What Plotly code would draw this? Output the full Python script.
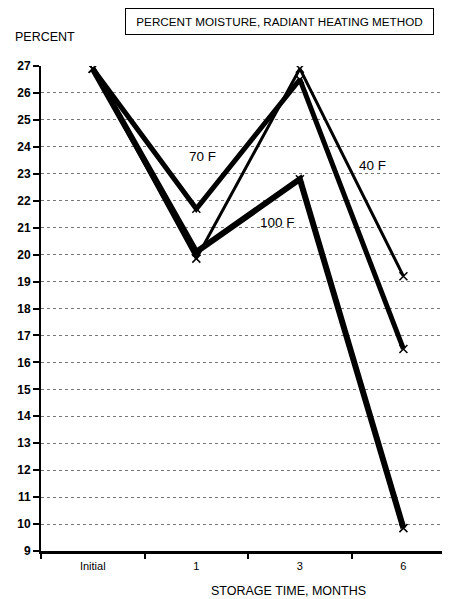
import plotly.graph_objects as go

categories = ["Initial", "1", "3", "6"]
f40 = [26.9, 19.85, 26.9, 19.2]
f70 = [26.9, 21.7, 26.5, 16.5]
f100 = [26.9, 20.1, 22.8, 9.85]
series = [("40 F", f40, 3), ("70 F", f70, 5), ("100 F", f100, 6)]
yticks = list(range(9, 28))

fig = go.Figure()
for name, vals, w in series:
    fig.add_trace(go.Scatter(
        x=categories, y=vals, mode="lines+markers", name=name,
        line=dict(color="black", width=w),
        marker=dict(symbol="x-thin", size=8, color="black",
                    line=dict(color="black", width=1.5)),
        showlegend=False))

font = "Liberation Sans, Arial, sans-serif"
labels = [("70 F", 1.06, 23.65), ("100 F", 1.78, 21.2), ("40 F", 2.7, 23.3)]
for t, x, y in labels:
    fig.add_annotation(x=x, y=y, text=t, showarrow=False,
                       font=dict(family=font, size=13.5, color="black"))

fig.add_annotation(xref="paper", yref="paper", x=0.584, y=1.091,
                   yanchor="middle",
                   text="PERCENT MOISTURE, RADIANT HEATING METHOD",
                   showarrow=False, bordercolor="black", borderwidth=1,
                   borderpad=6, width=295,
                   font=dict(family=font, size=11.7, color="black"))
fig.add_annotation(xref="paper", yref="paper", x=-0.068, y=1.06,
                   xanchor="left", yanchor="middle", text="PERCENT",
                   showarrow=False,
                   font=dict(family=font, size=12.5, color="black"))
fig.add_annotation(xref="paper", yref="paper", x=0.604, y=-0.0825,
                   yanchor="middle", text="STORAGE TIME, MONTHS",
                   showarrow=False,
                   font=dict(family=font, size=12.5, color="black"))

fig.update_layout(
    width=442, height=591,
    margin=dict(l=33, r=0, t=58, b=48),
    paper_bgcolor="white", plot_bgcolor="white",
    font=dict(family=font, color="black"),
    xaxis=dict(type="category", range=[-0.5, 3.45], showgrid=False,
               showline=True, linecolor="black", linewidth=3,
               ticks="outside", tickson="boundaries", ticklen=5,
               tickwidth=2, tickcolor="black", ticklabelstandoff=3,
               tickfont=dict(size=11, family=font)),
    yaxis=dict(range=[9, 27], tickvals=yticks, showline=True,
               linecolor="black", linewidth=2, ticks="outside",
               ticklen=6, tickwidth=1.5, tickcolor="black",
               showgrid=True, gridcolor="#777", griddash="dot",
               gridwidth=1, zeroline=False,
               tickfont=dict(size=12, family=font, weight="bold", color="black")),
)
fig.write_html("out.html")
